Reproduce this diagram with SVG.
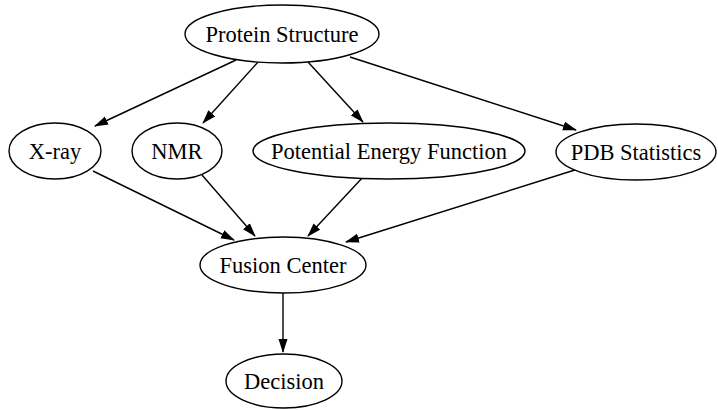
<svg xmlns="http://www.w3.org/2000/svg" width="718" height="410" viewBox="0 0 718 410">
<defs>
<style>
.n ellipse{fill:#fff;stroke:#000;stroke-width:1.4}
.n text{font-family:"Liberation Serif","Times New Roman",serif;font-size:22.5px;text-anchor:middle;fill:#000}
.e line{stroke:#000;stroke-width:1.4;marker-end:url(#ah)}
</style>
<marker id="ah" markerWidth="14" markerHeight="10" refX="13" refY="5" orient="auto" markerUnits="userSpaceOnUse">
<path d="M0,0.5 L14,5 L0,9.5 Z" fill="#000"/>
</marker>
</defs>
<rect width="718" height="410" fill="#fff"/>
<g id="edges" class="e">
<line x1="236" y1="60" x2="95" y2="126"/>
<line x1="258" y1="62" x2="203" y2="123"/>
<line x1="308" y1="62" x2="363" y2="122"/>
<line x1="350" y1="57" x2="576" y2="130"/>
<line x1="93" y1="171" x2="234" y2="240"/>
<line x1="202" y1="175" x2="255" y2="236"/>
<line x1="364" y1="176" x2="308" y2="236"/>
<line x1="578" y1="169" x2="346" y2="242"/>
<line x1="283" y1="293" x2="283" y2="352"/>
</g>
<g id="protein" class="n"><ellipse cx="282" cy="34" rx="97" ry="29"/><text x="282" y="42">Protein Structure</text></g>
<g id="xray" class="n"><ellipse cx="55" cy="151" rx="46" ry="28"/><text x="55" y="159">X-ray</text></g>
<g id="nmr" class="n"><ellipse cx="177" cy="151" rx="45" ry="28"/><text x="177" y="159">NMR</text></g>
<g id="pef" class="n"><ellipse cx="389" cy="151" rx="136" ry="28"/><text x="389" y="159">Potential Energy Function</text></g>
<g id="pdb" class="n"><ellipse cx="636" cy="152" rx="80" ry="28"/><text x="636" y="160">PDB Statistics</text></g>
<g id="fusion" class="n"><ellipse cx="283" cy="265" rx="83" ry="28"/><text x="283" y="273">Fusion Center</text></g>
<g id="decision" class="n"><ellipse cx="284" cy="381" rx="58" ry="27"/><text x="284" y="389">Decision</text></g>
</svg>
